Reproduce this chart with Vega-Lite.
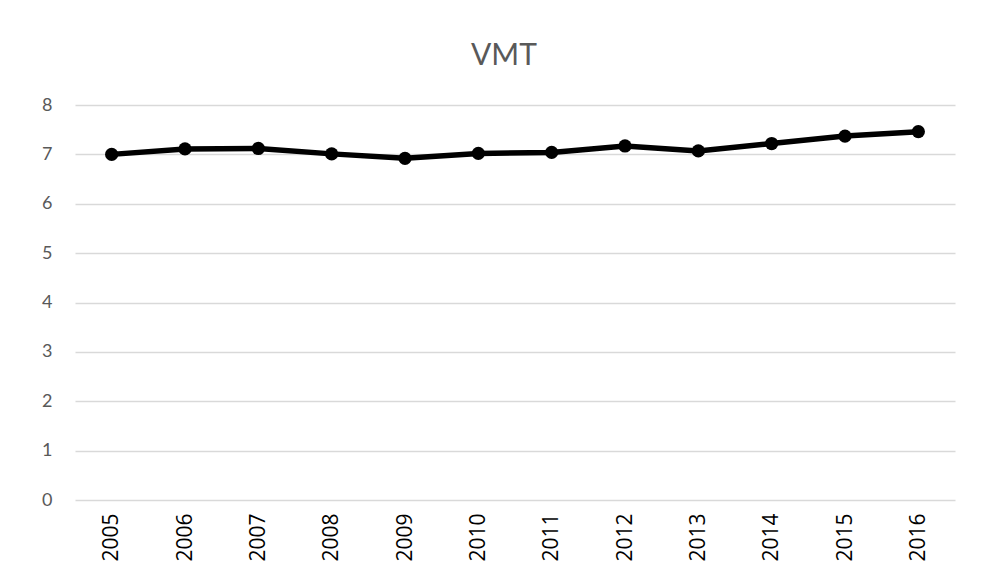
{
  "$schema": "https://vega.github.io/schema/vega-lite/v6.json",
  "width": 880,
  "height": 395,
  "autosize": {"type": "none"},
  "padding": {"left": 75, "top": 105, "right": 30, "bottom": 80},
  "background": "white",
  "title": {
    "text": "VMT",
    "anchor": "middle",
    "frame": "group",
    "dx": -11,
    "fontSize": 30,
    "font": "Lato",
    "fontWeight": "normal",
    "color": "#595959",
    "baseline": "alphabetic",
    "offset": 1
  },
  "data": {
    "values": [
      {"year": "2005", "vmt": 7.00},
      {"year": "2006", "vmt": 7.11},
      {"year": "2007", "vmt": 7.12},
      {"year": "2008", "vmt": 7.01},
      {"year": "2009", "vmt": 6.92},
      {"year": "2010", "vmt": 7.02},
      {"year": "2011", "vmt": 7.04},
      {"year": "2012", "vmt": 7.17},
      {"year": "2013", "vmt": 7.07},
      {"year": "2014", "vmt": 7.22},
      {"year": "2015", "vmt": 7.37},
      {"year": "2016", "vmt": 7.46}
    ]
  },
  "encoding": {
    "x": {
      "field": "year",
      "type": "ordinal",
      "scale": {"type": "point", "padding": 0.5},
      "axis": {
        "title": null,
        "labelAngle": -90,
        "labelFont": "Open Sans",
        "labelFontSize": 21,
        "labelFontWeight": 500,
        "labelColor": "#000000",
        "labelPadding": 13,
        "ticks": false,
        "domain": false,
        "grid": false
      }
    },
    "y": {
      "field": "vmt",
      "type": "quantitative",
      "scale": {"domain": [0, 8], "nice": false},
      "axis": {
        "title": null,
        "values": [0, 1, 2, 3, 4, 5, 6, 7, 8],
        "labelFont": "Lato",
        "labelFontSize": 18,
        "labelColor": "#595959",
        "labelPadding": 23,
        "ticks": false,
        "domain": false,
        "grid": true,
        "gridColor": "#d9d9d9",
        "gridWidth": 1.5
      }
    }
  },
  "layer": [
    {"mark": {"type": "line", "color": "#000000", "strokeWidth": 5.5}},
    {"mark": {"type": "point", "filled": true, "color": "#000000", "opacity": 1, "size": 175}}
  ],
  "config": {"view": {"stroke": null}}
}
